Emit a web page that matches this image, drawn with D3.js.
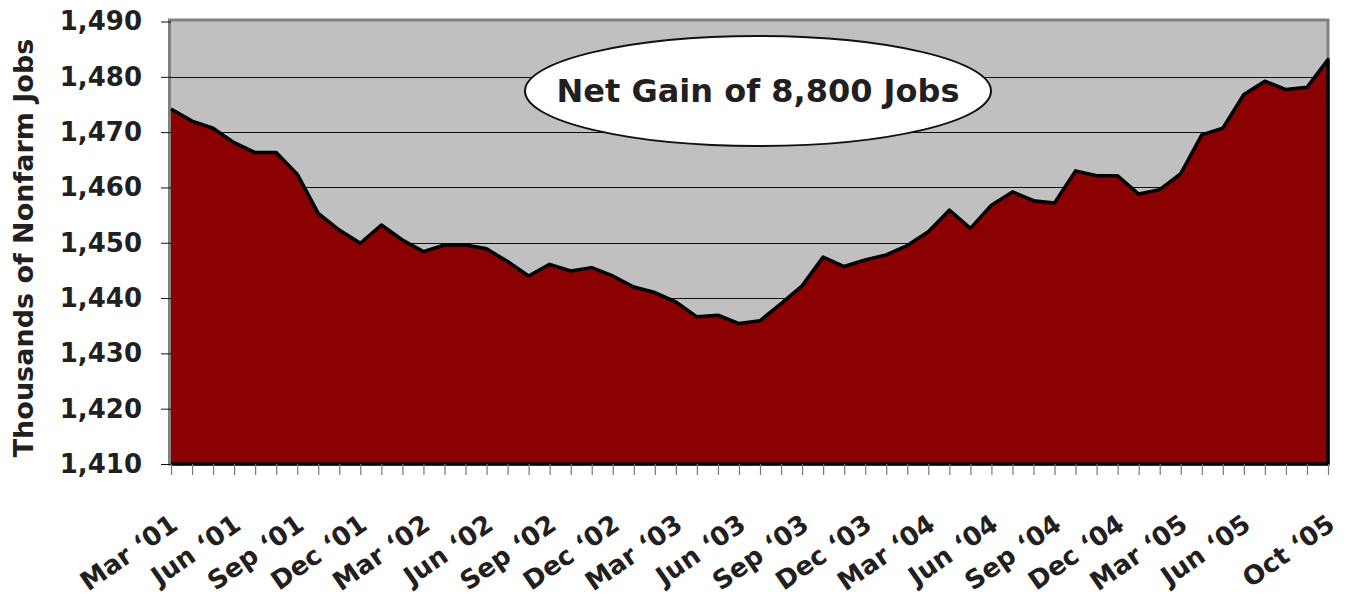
<!DOCTYPE html>
<html>
<head>
<meta charset="utf-8">
<script src="https://cdn.jsdelivr.net/npm/d3@7"></script>
<style>
  html, body { margin: 0; padding: 0; background: #fff; }
  svg text { font-family: "DejaVu Sans", Verdana, sans-serif; font-weight: bold; fill: #231f20; }
</style>
</head>
<body>
<svg id="chart" width="1353" height="599"></svg>
<script>
'use strict';

// monthly, Mar 2001 .. Oct 2005
var months = [
  'Mar 01', 'Apr 01', 'May 01', 'Jun 01', 'Jul 01', 'Aug 01', 'Sep 01', 'Oct 01', 'Nov 01', 'Dec 01',
  'Jan 02', 'Feb 02', 'Mar 02', 'Apr 02', 'May 02', 'Jun 02', 'Jul 02', 'Aug 02', 'Sep 02', 'Oct 02', 'Nov 02', 'Dec 02',
  'Jan 03', 'Feb 03', 'Mar 03', 'Apr 03', 'May 03', 'Jun 03', 'Jul 03', 'Aug 03', 'Sep 03', 'Oct 03', 'Nov 03', 'Dec 03',
  'Jan 04', 'Feb 04', 'Mar 04', 'Apr 04', 'May 04', 'Jun 04', 'Jul 04', 'Aug 04', 'Sep 04', 'Oct 04', 'Nov 04', 'Dec 04',
  'Jan 05', 'Feb 05', 'Mar 05', 'Apr 05', 'May 05', 'Jun 05', 'Jul 05', 'Aug 05', 'Sep 05', 'Oct 05'
];

var jobs = [
  1474.2, 1472.0, 1470.7, 1468.1, 1466.3, 1466.3, 1462.4, 1455.3, 1452.3, 1449.9,
  1453.2, 1450.5, 1448.4, 1449.6, 1449.6, 1448.9, 1446.6, 1444.0, 1446.1, 1444.9, 1445.5, 1444.0,
  1442.0, 1441.0, 1439.3, 1436.6, 1436.9, 1435.4, 1435.9, 1439.0, 1442.2, 1447.4, 1445.7, 1446.9,
  1447.8, 1449.5, 1452.0, 1455.9, 1452.6, 1456.8, 1459.2, 1457.6, 1457.2, 1463.0, 1462.1, 1462.1,
  1458.8, 1459.6, 1462.5, 1469.5, 1470.7, 1476.8, 1479.2, 1477.7, 1478.1, 1483.1
];

var tickLabels = {
  'Mar 01': 'Mar \u201801', 'Jun 01': 'Jun \u201801', 'Sep 01': 'Sep \u201801', 'Dec 01': 'Dec \u201801',
  'Mar 02': 'Mar \u201802', 'Jun 02': 'Jun \u201802', 'Sep 02': 'Sep \u201802', 'Dec 02': 'Dec \u201802',
  'Mar 03': 'Mar \u201803', 'Jun 03': 'Jun \u201803', 'Sep 03': 'Sep \u201803', 'Dec 03': 'Dec \u201803',
  'Mar 04': 'Mar \u201804', 'Jun 04': 'Jun \u201804', 'Sep 04': 'Sep \u201804', 'Dec 04': 'Dec \u201804',
  'Mar 05': 'Mar \u201805', 'Jun 05': 'Jun \u201805', 'Oct 05': 'Oct \u201805'
};

var yTicks = [1410, 1420, 1430, 1440, 1450, 1460, 1470, 1480, 1490];
var yTitle = 'Thousands of Nonfarm Jobs';
var note = 'Net Gain of 8,800 Jobs';

var plot = { left: 171, right: 1328, top: 21.5, bottom: 464 };

var svg = d3.select('#chart');

var x = d3.scalePoint().domain(months).range([plot.left, plot.right]).padding(0);
var y = d3.scaleLinear().domain([1410, 1490]).range([plot.bottom, plot.top]);

// plot background + frame
svg.append('rect')
  .attr('x', plot.left - 1.5).attr('y', plot.top - 1.5)
  .attr('width', plot.right - plot.left + 1.5).attr('height', plot.bottom - plot.top + 1.5)
  .attr('fill', '#c0c0c0')
  .attr('stroke', '#808080')
  .attr('stroke-width', 3);

// gridlines
svg.append('g')
  .selectAll('line')
  .data(yTicks.slice(1, -1))
  .enter().append('line')
  .attr('x1', plot.left).attr('x2', plot.right)
  .attr('y1', function (d) { return Math.round(y(d)) + 0.5; })
  .attr('y2', function (d) { return Math.round(y(d)) + 0.5; })
  .attr('stroke', '#111')
  .attr('stroke-width', 1.2);

var rows = months.map(function (m, i) { return { month: m, value: jobs[i] }; });

var area = d3.area()
  .x(function (d) { return x(d.month); })
  .y0(y(1410))
  .y1(function (d) { return y(d.value); });

svg.append('path')
  .datum(rows)
  .attr('d', area)
  .attr('fill', '#8b0000');

// outline: top line, then down the right edge and back along the base
var outline = rows.map(function (d) { return [x(d.month), y(d.value)]; });
outline.push([x(months[months.length - 1]), y(1410)]);
outline.push([x(months[0]), y(1410)]);

svg.append('path')
  .attr('d', d3.line()(outline))
  .attr('fill', 'none')
  .attr('stroke', '#000')
  .attr('stroke-width', 3.5)
  .attr('stroke-linejoin', 'round');

// y axis
var yAxis = svg.append('g')
  .attr('transform', 'translate(' + plot.left + ',0)')
  .call(d3.axisLeft(y).tickValues(yTicks).tickFormat(d3.format(',')).tickSize(10).tickPadding(19));
yAxis.select('.domain').remove();
yAxis.selectAll('.tick line').attr('stroke', '#111');
yAxis.selectAll('text').attr('font-size', 26).attr('fill', '#231f20');

// x axis
var xAxis = svg.append('g')
  .attr('transform', 'translate(0,' + plot.bottom + ')')
  .call(d3.axisBottom(x).tickSize(11).tickFormat(function (m) { return tickLabels[m] || ''; }));
xAxis.select('.domain').remove();
xAxis.selectAll('.tick line').attr('stroke', '#777').attr('stroke-width', 1.2);
xAxis.selectAll('text')
  .attr('font-size', 26)
  .attr('fill', '#231f20')
  .attr('text-anchor', 'end')
  .attr('y', 0).attr('dy', 0)
  .attr('transform', 'translate(8,64) rotate(-35)');

// y title
svg.append('text')
  .attr('transform', 'translate(33,248) rotate(-90)')
  .attr('text-anchor', 'middle')
  .attr('font-size', 27)
  .text(yTitle);

// callout
svg.append('ellipse')
  .attr('cx', 758).attr('cy', 91)
  .attr('rx', 233).attr('ry', 55)
  .attr('fill', '#fff')
  .attr('stroke', '#111')
  .attr('stroke-width', 2);

svg.append('text')
  .attr('x', 758).attr('y', 102)
  .attr('text-anchor', 'middle')
  .attr('font-size', 32)
  .text(note);
</script>
</body>
</html>
